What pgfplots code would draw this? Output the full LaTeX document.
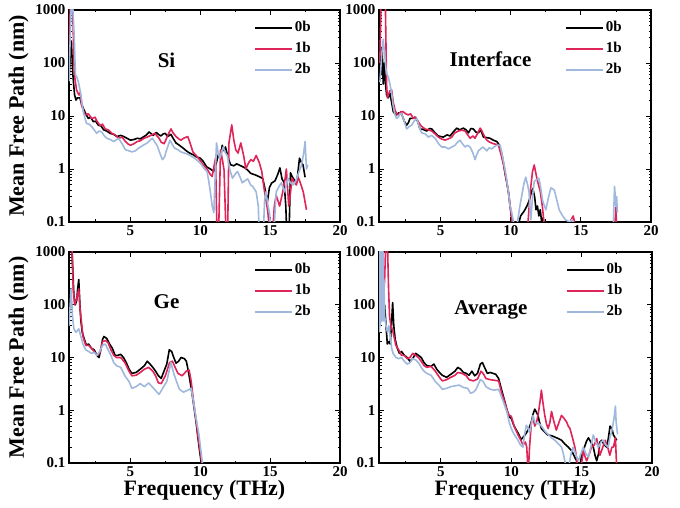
\documentclass[border=0pt]{standalone}
\usepackage{pgfplots}
\pgfplotsset{compat=1.18}
\usepackage{fontspec}
\setmainfont{Liberation Serif}
\definecolor{cr}{RGB}{222,36,88}
\definecolor{cb}{RGB}{160,184,222}
\begin{document}
\begin{tikzpicture}
\useasboundingbox (0,0) rectangle (680pt,508pt);
% ---------------- Si ----------------
\begin{axis}[scale only axis, width=271pt, height=212pt, anchor=south west, at={(69pt,286pt)},
  ymode=log, xmin=0.6, xmax=20, ymin=0.1, ymax=1000,
  xtick={5,10,15,20}, minor xtick={2.5,7.5,12.5,17.5},
  ytick={0.1,1,10,100,1000}, yticklabels={0.1,1,10,100,1000},
  tick align=inside, major tick length=5pt, minor tick length=2.5pt,
  axis line style={line width=1.1pt},
  every tick/.style={black, line width=0.9pt},
  tick label style={font=\bfseries\fontsize{15}{15}\selectfont},
  /pgf/number format/assume math mode=true,
  ylabel={Mean Free Path (nm)},
  ylabel style={font=\bfseries\fontsize{22}{22}\selectfont},
  legend style={draw=none, fill=none, at={(0.9,0.96)}, anchor=north east,
    font=\bfseries\fontsize{15}{15}\selectfont, row sep=2pt, inner sep=0pt,
    nodes={text height=11pt, text depth=4pt}},
  legend cell align=left,
  legend image code/.code={\draw[#1] (0pt,0pt) -- (37pt,0pt);}]
\addplot[black, line width=1.6pt, line join=round] coordinates {(0.6,45)(0.7,150)(0.77,260)(0.85,80)(0.9,50)(1.0,25)(1.1,20)(1.2,22)(1.38,22)(1.5,17)(1.62,14)(1.8,11)(1.98,9)(2.15,9.5)(2.34,7.8)(2.5,8)(2.7,6.7)(2.9,6.5)(3.07,5.5)(3.3,5.2)(3.55,4.7)(3.8,4.5)(4.03,4.1)(4.3,4.3)(4.52,4.1)(4.75,3.8)(5.0,3.5)(5.25,3.6)(5.48,3.8)(5.7,3.7)(5.97,4.1)(6.15,4.4)(6.33,5.0)(6.5,4.6)(6.62,4.3)(6.86,4.9)(7.0,4.5)(7.17,4.2)(7.35,4.6)(7.49,4.7)(7.66,4.1)(7.9,4.5)(8.05,3.8)(8.26,3.1)(8.5,2.8)(8.75,2.5)(9.0,2.2)(9.23,2.0)(9.5,1.85)(9.71,1.7)(10.0,1.6)(10.2,1.4)(10.45,1.1)(10.72,1.0)(10.96,0.9)(11.15,1.3)(11.3,1.9)(11.45,1.6)(11.57,2.8)(11.7,2.2)(11.8,2.6)(12.0,1.6)(12.17,1.2)(12.4,1.15)(12.6,1.25)(12.9,1.15)(13.2,1.05)(13.4,0.95)(13.6,0.83)(13.9,0.78)(14.2,0.72)(14.47,0.66)(14.65,0.4)(14.8,0.24)(14.95,0.45)(15.1,0.54)(15.35,0.6)(15.55,0.8)(15.7,1.05)(15.85,0.65)(16.0,0.55)(16.12,0.2)(16.2,0.05)(16.35,0.05)(16.45,0.85)(16.6,0.7)(16.85,0.56)(16.95,0.7)(17.1,1.6)(17.25,1.3)(17.35,1.2)(17.5,0.7)};
\addplot[cr, line width=1.6pt, line join=round] coordinates {(0.6,140)(0.7,1500)(0.85,1500)(0.97,70)(1.05,45)(1.14,31)(1.3,25)(1.4,28)(1.5,16)(1.62,13)(1.74,10.5)(1.98,11)(2.1,10)(2.22,8.9)(2.46,9.5)(2.6,8)(2.83,6.6)(3.0,7)(3.19,5.7)(3.4,5.5)(3.67,4.7)(3.9,4.4)(4.15,3.8)(4.4,4.0)(4.64,3.3)(4.8,3.0)(5.0,2.8)(5.25,3.0)(5.48,3.3)(5.7,3.4)(5.97,3.8)(6.2,4.0)(6.45,4.3)(6.6,4.5)(6.76,4.7)(6.9,4.2)(7.05,3.8)(7.2,3.2)(7.41,3.0)(7.55,3.6)(7.66,4.3)(7.9,5.7)(8.05,4.8)(8.26,4.1)(8.45,3.7)(8.62,3.5)(8.8,3.8)(9.1,4.1)(9.25,3.2)(9.47,2.1)(9.7,1.8)(9.95,1.5)(10.2,1.2)(10.48,1.0)(10.7,0.8)(10.85,0.72)(11.0,1.2)(11.09,1.6)(11.2,0.05)(11.3,0.05)(11.45,2.3)(11.6,1.4)(11.7,0.95)(11.85,0.05)(11.95,0.05)(12.05,3.1)(12.25,6.8)(12.4,3.5)(12.54,2.3)(12.7,2.0)(12.9,3.1)(13.1,1.8)(13.26,1.0)(13.45,1.3)(13.62,1.5)(13.8,1.4)(14.0,1.8)(14.23,1.3)(14.4,0.9)(14.6,0.37)(14.83,0.16)(15.0,0.05)(15.15,0.05)(15.3,0.2)(15.43,0.32)(15.68,0.2)(15.9,0.37)(16.05,0.6)(16.16,1.0)(16.33,0.2)(16.45,0.35)(16.57,0.67)(16.75,0.55)(16.88,0.5)(17.0,0.7)(17.13,0.58)(17.37,0.37)(17.6,0.17)};
\addplot[cb, line width=1.6pt, line join=round] coordinates {(0.6,45)(0.7,400)(0.77,1500)(0.85,1500)(0.97,340)(1.06,60)(1.15,55)(1.26,45)(1.35,35)(1.45,25)(1.62,12)(1.75,9)(1.86,7.2)(2.05,7)(2.22,6.3)(2.4,5.5)(2.58,4.7)(2.75,5.2)(2.95,5)(3.1,4.3)(3.31,3.8)(3.55,3.6)(3.79,3.3)(3.95,3.5)(4.15,3.8)(4.4,3.0)(4.64,2.3)(4.9,2.2)(5.12,2.1)(5.35,2.2)(5.6,2.5)(5.9,2.8)(6.2,3.1)(6.4,3.5)(6.57,3.8)(6.75,3.2)(6.93,2.7)(7.1,2.0)(7.29,1.5)(7.45,1.7)(7.54,2.1)(7.7,2.8)(7.83,3.5)(8.0,2.9)(8.14,2.5)(8.4,2.3)(8.62,2.1)(8.85,2.0)(9.1,1.9)(9.35,1.75)(9.59,1.6)(9.85,1.4)(10.1,1.2)(10.3,1.0)(10.48,0.9)(10.6,0.6)(10.72,0.37)(10.85,0.2)(10.97,0.15)(11.08,1.0)(11.16,3.1)(11.28,2.0)(11.4,1.6)(11.55,2.2)(11.64,2.6)(11.8,2.0)(11.93,1.8)(12.1,1.0)(12.3,0.67)(12.5,0.8)(12.66,0.9)(12.85,0.7)(13.0,0.55)(13.2,0.6)(13.4,0.65)(13.6,0.5)(13.75,0.47)(14.0,0.37)(14.15,0.2)(14.23,0.05)(14.5,0.05)(14.6,0.25)(14.7,0.37)(14.85,0.2)(14.95,0.15)(15.1,0.05)(15.25,0.05)(15.43,0.37)(15.6,0.45)(15.8,0.55)(16.04,0.37)(16.28,0.67)(16.45,0.55)(16.64,0.5)(16.85,0.6)(17.0,0.8)(17.25,1.2)(17.4,2.0)(17.5,3.3)(17.6,1.0)(17.7,1.2)};
\legend{0b,1b,2b}
\node[font=\bfseries\fontsize{21}{21}\selectfont] at (rel axis cs:0.36,0.764) {Si};
\end{axis}
% ---------------- Interface ----------------
\begin{axis}[scale only axis, width=272pt, height=212pt, anchor=south west, at={(379pt,286pt)},
  ymode=log, xmin=0.6, xmax=20, ymin=0.1, ymax=1000,
  xtick={5,10,15,20}, minor xtick={2.5,7.5,12.5,17.5},
  ytick={0.1,1,10,100,1000}, yticklabels={0.1,1,10,100,1000},
  tick align=inside, major tick length=5pt, minor tick length=2.5pt,
  axis line style={line width=1.1pt},
  every tick/.style={black, line width=0.9pt},
  tick label style={font=\bfseries\fontsize{15}{15}\selectfont},
  /pgf/number format/assume math mode=true,
  legend style={draw=none, fill=none, at={(0.9,0.96)}, anchor=north east,
    font=\bfseries\fontsize{15}{15}\selectfont, row sep=2pt, inner sep=0pt,
    nodes={text height=11pt, text depth=4pt}},
  legend cell align=left,
  legend image code/.code={\draw[#1] (0pt,0pt) -- (37pt,0pt);}]
\addplot[black, line width=1.6pt, line join=round] coordinates {(0.6,100)(0.67,140)(0.75,60)(0.82,200)(0.9,40)(0.98,100)(1.05,45)(1.14,25)(1.25,22)(1.38,27)(1.5,18)(1.62,12)(1.74,11)(1.86,10.5)(2.0,11.5)(2.21,11)(2.4,8)(2.57,6.7)(2.7,7.5)(2.81,9)(3.0,9)(3.17,9.5)(3.35,8)(3.52,5.7)(3.75,5.6)(4.0,5.2)(4.2,5.8)(4.36,5.7)(4.6,4.8)(4.83,4.2)(5.0,4.1)(5.19,4.0)(5.45,4.4)(5.67,4.2)(5.9,5.0)(6.14,5.9)(6.35,5.5)(6.62,5.9)(6.8,5.5)(6.98,4.8)(7.15,5.8)(7.33,5.7)(7.5,5.0)(7.69,4.8)(7.85,5.5)(8.05,4.0)(8.3,3.9)(8.52,3.8)(8.75,3.5)(9.0,3.3)(9.2,2.8)(9.36,1.9)(9.5,1.2)(9.6,0.8)(9.72,0.55)(9.83,0.37)(9.95,0.2)(10.07,0.11)(10.15,0.05)(10.35,0.05)(10.5,0.08)(10.7,0.13)(10.95,0.16)(11.15,0.2)(11.3,0.25)(11.45,0.35)(11.57,0.43)(11.7,0.3)(11.8,0.17)(11.9,0.2)(12.0,0.13)(12.1,0.17)(12.2,0.1)(12.3,0.12)(12.45,0.05)};
\addplot[cr, line width=1.6pt, line join=round] coordinates {(0.6,100)(0.67,140)(0.75,1500)(1.05,1500)(1.14,40)(1.2,22)(1.26,25)(1.38,30)(1.5,31)(1.62,18)(1.74,13)(1.86,11)(1.98,10.5)(2.15,12)(2.33,12)(2.5,11)(2.69,10.5)(2.85,11)(3.05,9)(3.2,9.5)(3.4,7.8)(3.6,6.5)(3.88,5.7)(4.1,5.5)(4.36,5.2)(4.6,4.6)(4.83,4.0)(5.05,3.7)(5.31,3.5)(5.55,3.7)(5.79,4.0)(6.0,4.8)(6.26,5.2)(6.5,5.4)(6.74,5.2)(6.9,4.5)(7.1,3.8)(7.3,4.2)(7.45,3.8)(7.65,4.8)(7.81,5.9)(7.9,5.5)(8.0,4.8)(8.15,4.0)(8.29,3.5)(8.5,3.2)(8.76,3.0)(9.0,2.9)(9.12,2.8)(9.3,1.9)(9.48,1.2)(9.65,0.7)(9.83,0.37)(9.95,0.2)(10.07,0.12)(10.19,0.05)(11.15,0.05)(11.25,0.12)(11.4,0.4)(11.55,0.9)(11.67,1.19)(11.8,0.8)(11.9,0.6)(12.1,0.38)(12.25,0.2)(12.4,0.08)(14.2,0.08)(14.3,0.11)(14.45,0.13)(14.55,0.1)(14.65,0.07)(17.4,0.07)(17.5,0.19)(17.55,0.07)};
\addplot[cb, line width=1.6pt, line join=round] coordinates {(0.6,45)(0.67,45)(0.8,150)(0.9,280)(1.0,150)(1.1,75)(1.18,60)(1.26,55)(1.38,40)(1.5,27)(1.62,15)(1.74,10.5)(1.86,9)(1.98,9.5)(2.1,11)(2.21,11)(2.4,8)(2.57,5.7)(2.75,6.3)(2.93,6.7)(3.1,8)(3.29,9)(3.45,6.5)(3.64,4.8)(3.9,4.6)(4.12,4.0)(4.35,4.3)(4.6,3.8)(4.85,3.0)(5.07,2.6)(5.3,2.6)(5.55,2.4)(5.8,2.6)(6.02,2.8)(6.2,3.2)(6.38,3.5)(6.55,3.0)(6.74,2.6)(6.9,2.8)(7.1,2.6)(7.3,2.0)(7.45,1.5)(7.55,1.8)(7.69,2.2)(7.85,2.4)(8.0,2.6)(8.15,2.4)(8.29,2.2)(8.45,2.5)(8.64,2.4)(8.8,2.6)(9.0,2.8)(9.24,2.8)(9.36,2.0)(9.48,1.4)(9.65,0.8)(9.83,0.37)(9.95,0.2)(10.07,0.15)(10.2,0.1)(10.3,0.07)(10.4,0.08)(10.5,0.11)(10.65,0.2)(10.83,0.37)(10.95,0.55)(11.07,0.7)(11.2,0.5)(11.3,0.37)(11.43,0.11)(11.55,0.3)(11.67,0.58)(11.8,0.62)(12.0,0.67)(12.1,0.5)(12.26,0.26)(12.4,0.2)(12.5,0.17)(12.7,0.3)(12.86,0.44)(13.0,0.42)(13.1,0.4)(13.3,0.25)(13.45,0.17)(13.7,0.13)(13.9,0.11)(14.2,0.1)(14.35,0.11)(14.45,0.1)(14.6,0.07)(17.3,0.07)(17.4,0.47)(17.5,0.2)(17.55,0.3)(17.6,0.15)};
\legend{0b,1b,2b}
\node[font=\bfseries\fontsize{21}{21}\selectfont] at (rel axis cs:0.41,0.77) {Interface};
\end{axis}
% ---------------- Ge ----------------
\begin{axis}[scale only axis, width=271pt, height=211pt, anchor=south west, at={(69pt,45pt)},
  ymode=log, xmin=0.6, xmax=20, ymin=0.1, ymax=1000,
  xtick={5,10,15,20}, minor xtick={2.5,7.5,12.5,17.5},
  ytick={0.1,1,10,100,1000}, yticklabels={0.1,1,10,100,1000},
  tick align=inside, major tick length=5pt, minor tick length=2.5pt,
  axis line style={line width=1.1pt},
  every tick/.style={black, line width=0.9pt},
  tick label style={font=\bfseries\fontsize{15}{15}\selectfont},
  /pgf/number format/assume math mode=true,
  ylabel={Mean Free Path (nm)}, xlabel={Frequency (THz)},
  ylabel style={font=\bfseries\fontsize{22}{22}\selectfont},
  xlabel style={font=\bfseries\fontsize{22}{22}\selectfont, yshift=3pt},
  legend style={draw=none, fill=none, at={(0.9,0.96)}, anchor=north east,
    font=\bfseries\fontsize{15}{15}\selectfont, row sep=2pt, inner sep=0pt,
    nodes={text height=11pt, text depth=4pt}},
  legend cell align=left,
  legend image code/.code={\draw[#1] (0pt,0pt) -- (37pt,0pt);}]
\addplot[black, line width=1.6pt, line join=round] coordinates {(0.6,1500)(0.8,1500)(0.88,400)(0.95,150)(1.05,100)(1.15,120)(1.22,200)(1.3,300)(1.38,100)(1.45,50)(1.55,30)(1.7,22)(1.85,17)(2.0,18)(2.2,15)(2.4,14)(2.6,11)(2.75,10)(2.9,15)(3.0,22)(3.1,25)(3.3,23)(3.5,18)(3.7,15)(3.9,11)(4.1,11)(4.3,11.5)(4.5,10)(4.7,8)(4.9,6)(5.1,5)(5.4,5.2)(5.7,6)(6.0,7)(6.2,8.5)(6.4,7.5)(6.6,6.5)(6.8,5.5)(7.0,4.5)(7.2,4.0)(7.4,5.5)(7.6,7.5)(7.78,14)(7.95,13)(8.1,10)(8.26,7.8)(8.45,8.5)(8.62,10)(8.86,9.5)(9.0,8.5)(9.1,6.3)(9.2,4.5)(9.35,2.6)(9.47,1.6)(9.59,0.95)(9.7,0.6)(9.83,0.3)(9.95,0.17)(10.07,0.1)(10.15,0.07)};
\addplot[cr, line width=1.6pt, line join=round] coordinates {(0.6,1500)(0.8,1500)(0.9,200)(1.0,100)(1.1,120)(1.2,150)(1.3,200)(1.38,90)(1.45,60)(1.6,25)(1.8,17)(2.0,17)(2.2,15)(2.4,13)(2.6,11)(2.8,12)(3.0,20)(3.2,21)(3.4,19)(3.6,14)(3.8,11)(4.0,10)(4.3,10)(4.6,8)(4.9,5.5)(5.1,4.5)(5.4,4.6)(5.7,5.2)(6.0,6)(6.3,6.5)(6.6,5.5)(6.8,4.5)(7.0,3.3)(7.2,3.2)(7.5,4.5)(7.8,8)(8.0,8.5)(8.2,6.5)(8.4,5.0)(8.7,4.5)(9.0,5.5)(9.2,5.8)(9.35,3.5)(9.5,1.6)(9.6,1.0)(9.72,0.6)(9.85,0.3)(10.0,0.16)(10.1,0.1)(10.2,0.06)};
\addplot[cb, line width=1.6pt, line join=round] coordinates {(0.6,40)(0.75,200)(0.85,60)(0.95,35)(1.1,30)(1.3,35)(1.45,25)(1.6,18)(1.8,14)(2.0,13)(2.2,12)(2.4,12.5)(2.6,11)(2.8,13)(3.0,17)(3.2,18)(3.4,14)(3.6,11)(3.8,8)(4.0,7)(4.3,6.5)(4.6,4.5)(4.9,3.5)(5.1,2.6)(5.4,2.8)(5.7,3.2)(6.0,2.8)(6.3,3.3)(6.6,2.7)(6.9,2.2)(7.05,2.0)(7.3,2.6)(7.6,3.5)(7.9,8)(8.1,5)(8.3,3.5)(8.5,2.5)(8.8,2.2)(9.1,2.4)(9.35,2.6)(9.5,1.5)(9.7,0.7)(9.9,0.35)(10.15,0.1)(10.25,0.06)};
\legend{0b,1b,2b}
\node[font=\bfseries\fontsize{21}{21}\selectfont] at (rel axis cs:0.36,0.763) {Ge};
\end{axis}
% ---------------- Average ----------------
\begin{axis}[scale only axis, width=273pt, height=211pt, anchor=south west, at={(379pt,45pt)},
  ymode=log, xmin=0.6, xmax=20, ymin=0.1, ymax=1000,
  xtick={5,10,15,20}, minor xtick={2.5,7.5,12.5,17.5},
  ytick={0.1,1,10,100,1000}, yticklabels={0.1,1,10,100,1000},
  tick align=inside, major tick length=5pt, minor tick length=2.5pt,
  axis line style={line width=1.1pt},
  every tick/.style={black, line width=0.9pt},
  tick label style={font=\bfseries\fontsize{15}{15}\selectfont},
  /pgf/number format/assume math mode=true,
  xlabel={Frequency (THz)},
  xlabel style={font=\bfseries\fontsize{22}{22}\selectfont, yshift=3pt},
  legend style={draw=none, fill=none, at={(0.9,0.96)}, anchor=north east,
    font=\bfseries\fontsize{15}{15}\selectfont, row sep=2pt, inner sep=0pt,
    nodes={text height=11pt, text depth=4pt}},
  legend cell align=left,
  legend image code/.code={\draw[#1] (0pt,0pt) -- (37pt,0pt);}]
\addplot[black, line width=1.6pt, line join=round] coordinates {(0.62,50)(0.7,120)(0.78,60)(0.85,150)(0.9,50)(1.0,100)(1.1,40)(1.19,18)(1.3,20)(1.4,18)(1.5,50)(1.57,110)(1.65,40)(1.75,22)(1.9,15)(2.05,12)(2.2,13)(2.4,11)(2.6,10)(2.8,8.5)(3.0,9.5)(3.2,12)(3.4,11)(3.6,10)(3.8,8)(4.0,7)(4.3,6.8)(4.5,7.5)(4.7,6)(4.9,5.2)(5.1,4.6)(5.4,4.2)(5.7,4.8)(6.0,5.5)(6.2,6.5)(6.4,6)(6.6,5.2)(6.8,5)(7.0,4.6)(7.2,5.5)(7.4,4.5)(7.6,5)(7.8,7.5)(7.95,8)(8.1,6.5)(8.3,5)(8.5,5.2)(8.7,5)(8.9,4.8)(9.1,4)(9.3,2.5)(9.5,1.6)(9.7,1.0)(9.85,0.75)(10.0,0.7)(10.2,0.5)(10.48,0.37)(10.7,0.28)(10.9,0.32)(11.07,0.37)(11.25,0.45)(11.43,0.6)(11.55,0.85)(11.67,1.05)(11.8,0.9)(11.9,0.8)(12.0,0.6)(12.14,0.45)(12.4,0.38)(12.6,0.34)(12.85,0.33)(13.1,0.31)(13.35,0.29)(13.57,0.27)(13.8,0.23)(14.05,0.2)(14.3,0.17)(14.5,0.13)(14.64,0.11)(14.76,0.08)(14.88,0.09)(15.0,0.14)(15.2,0.2)(15.35,0.26)(15.48,0.3)(15.65,0.25)(15.83,0.2)(15.95,0.14)(16.07,0.11)(16.2,0.15)(16.3,0.25)(16.43,0.27)(16.6,0.22)(16.79,0.2)(16.9,0.3)(17.02,0.5)(17.15,0.45)(17.26,0.34)(17.5,0.27)};
\addplot[cr, line width=1.6pt, line join=round] coordinates {(0.62,40)(0.7,50)(0.8,60)(0.9,100)(1.0,300)(1.08,1500)(1.2,1500)(1.28,200)(1.35,60)(1.45,40)(1.6,30)(1.8,17)(2.0,14)(2.2,11)(2.4,11)(2.6,9.5)(2.8,10)(3.0,12)(3.2,11)(3.4,10)(3.6,8.5)(3.8,7)(4.0,6.5)(4.3,6.8)(4.6,5.5)(4.9,4.2)(5.1,3.6)(5.4,3.8)(5.7,4.2)(6.0,4.6)(6.2,5.2)(6.5,5)(6.8,4.5)(7.0,3.8)(7.3,3.6)(7.6,3.9)(7.85,5.5)(8.0,5)(8.2,4)(8.5,3.8)(8.8,3.7)(9.1,3.6)(9.3,2.2)(9.5,1.5)(9.7,1.0)(9.85,0.8)(10.0,0.77)(10.2,0.5)(10.48,0.34)(10.65,0.28)(10.83,0.22)(11.0,0.25)(11.1,0.2)(11.2,0.06)(11.3,0.2)(11.43,0.6)(11.55,0.7)(11.67,0.5)(11.8,0.6)(11.9,0.8)(12.05,1.5)(12.14,2.4)(12.25,1.4)(12.38,0.8)(12.5,0.55)(12.62,0.45)(12.75,0.6)(12.86,0.95)(13.0,0.65)(13.2,0.42)(13.4,0.6)(13.57,0.8)(13.75,0.7)(13.93,0.6)(14.05,0.5)(14.17,0.45)(14.35,0.3)(14.52,0.2)(14.65,0.12)(14.76,0.07)(14.95,0.08)(15.12,0.17)(15.25,0.13)(15.36,0.11)(15.55,0.15)(15.7,0.2)(15.9,0.22)(16.07,0.29)(16.2,0.2)(16.3,0.14)(16.5,0.2)(16.67,0.27)(16.85,0.2)(17.0,0.14)(17.15,0.2)(17.26,0.2)(17.4,0.3)(17.5,0.07)};
\addplot[cb, line width=1.6pt, line join=round] coordinates {(0.6,30)(0.61,1500)(0.62,32)(0.63,1500)(0.64,35)(0.65,1500)(0.66,38)(0.67,1500)(0.68,40)(0.69,1500)(0.7,42)(0.71,1500)(0.72,45)(0.73,1500)(0.74,48)(0.75,1500)(0.76,50)(0.77,1500)(0.78,55)(0.79,1500)(0.8,60)(0.81,1500)(0.82,55)(0.83,1500)(0.84,50)(0.85,1500)(0.86,60)(0.87,1500)(0.88,70)(0.9,1000)(0.92,50)(0.95,300)(1.0,60)(1.1,40)(1.2,30)(1.3,40)(1.4,25)(1.5,15)(1.6,12)(1.8,10)(2.0,9.5)(2.2,10)(2.4,8.5)(2.6,7.5)(2.8,8)(3.0,9.5)(3.2,9)(3.4,8)(3.6,6.5)(3.8,5.5)(4.0,5)(4.3,4.6)(4.6,3.5)(4.9,2.9)(5.1,2.5)(5.4,2.6)(5.7,2.8)(6.0,2.9)(6.3,3.0)(6.6,2.7)(6.9,2.6)(7.1,2.1)(7.3,2.2)(7.5,2.5)(7.8,3.8)(8.0,3.5)(8.2,2.8)(8.5,2.5)(8.8,2.4)(9.1,2.5)(9.3,1.8)(9.5,1.3)(9.7,0.9)(9.85,0.6)(10.0,0.45)(10.2,0.35)(10.48,0.27)(10.65,0.22)(10.83,0.2)(10.95,0.35)(11.07,0.52)(11.2,0.45)(11.3,0.38)(11.43,0.55)(11.55,0.8)(11.67,0.6)(11.8,0.55)(12.0,0.55)(12.14,0.5)(12.4,0.4)(12.62,0.35)(12.85,0.3)(13.1,0.27)(13.35,0.23)(13.57,0.2)(13.7,0.15)(13.8,0.11)(13.95,0.08)(14.1,0.09)(14.25,0.15)(14.4,0.2)(14.6,0.14)(14.76,0.11)(14.95,0.15)(15.12,0.2)(15.3,0.15)(15.48,0.13)(15.65,0.2)(15.83,0.34)(16.0,0.25)(16.2,0.2)(16.38,0.25)(16.55,0.27)(16.7,0.22)(16.9,0.2)(17.0,0.3)(17.14,0.4)(17.3,0.7)(17.4,1.2)(17.45,0.6)(17.5,0.45)(17.55,0.35)};
\legend{0b,1b,2b}
\node[font=\bfseries\fontsize{21}{21}\selectfont] at (rel axis cs:0.41,0.725) {Average};
\end{axis}
\end{tikzpicture}
\end{document}
